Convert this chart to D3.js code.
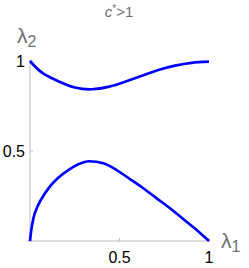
<!DOCTYPE html>
<html>
<head>
<meta charset="utf-8">
<script src="https://cdn.jsdelivr.net/npm/d3@7"></script>
<style>
  body { margin: 0; background: #fff; }
  svg { display: block; }
</style>
</head>
<body>
<div id="chart"></div>
<script>
// valeurs
const upperX = [0, 0.065, 0.158, 0.251, 0.345, 0.437, 0.531, 0.624, 0.717, 0.81, 0.903, 1.0];
const upperY = [1, 0.937, 0.888, 0.853, 0.843, 0.856, 0.885, 0.918, 0.95, 0.974, 0.99, 0.996];
const lowerX = [0, 0.006, 0.019, 0.046, 0.084, 0.121, 0.158, 0.214, 0.27, 0.33, 0.41, 0.484, 0.559, 0.633, 0.708, 0.782, 0.856, 0.931, 1.0];
const lowerY = [0, 0.052, 0.126, 0.2, 0.265, 0.315, 0.352, 0.394, 0.426, 0.443, 0.432, 0.394, 0.344, 0.293, 0.237, 0.182, 0.122, 0.061, 0];
const xTicks = [0.5, 1];
const yTicks = [0.5, 1];

const width = 249, height = 268;
const margin = { top: 61, right: 40, bottom: 27, left: 30 };

const svg = d3.select("#chart").append("svg")
    .attr("width", width)
    .attr("height", height);

const x = d3.scaleLinear().domain([0, 1]).range([margin.left, width - margin.right]);
const y = d3.scaleLinear().domain([0, 1]).range([height - margin.bottom, margin.top]);

// axes gris
const axisColor = "#bbbbbb";
svg.append("line")
    .attr("x1", x(0) - 3).attr("x2", x(1) + 1)
    .attr("y1", y(0)).attr("y2", y(0))
    .attr("stroke", axisColor).attr("stroke-width", 1);
svg.append("line")
    .attr("x1", x(0)).attr("x2", x(0))
    .attr("y1", y(0)).attr("y2", y(1) - 1)
    .attr("stroke", axisColor).attr("stroke-width", 1);

// graduations
svg.selectAll(".xt").data(xTicks).enter().append("line")
    .attr("x1", d => x(d)).attr("x2", d => x(d))
    .attr("y1", y(0)).attr("y2", y(0) - 3)
    .attr("stroke", axisColor);
svg.selectAll(".yt").data(yTicks).enter().append("line")
    .attr("x1", x(0)).attr("x2", x(0) + 3)
    .attr("y1", d => y(d)).attr("y2", d => y(d))
    .attr("stroke", axisColor);

svg.selectAll(".xl").data(xTicks).enter().append("text")
    .attr("x", d => x(d))
    .attr("y", y(0) + 22)
    .attr("text-anchor", "middle")
    .style("font-family", "Liberation Sans, Arial")
    .style("font-size", "16px")
    .text(d => d === 1 ? "1" : d);
svg.selectAll(".yl").data(yTicks).enter().append("text")
    .attr("x", x(0) - 5)
    .attr("y", d => y(d) + 6)
    .attr("text-anchor", "end")
    .style("font-family", "Liberation Sans, Arial")
    .style("font-size", "16px")
    .text(d => d === 1 ? "1" : d);

// courbes
const upperLine = d3.line()
    .x(d => x(d[0]))
    .y(d => y(d[1]))
    .curve(d3.curveNatural);

const lowerLine = d3.line()
    .x(d => x(d[0]))
    .y(d => y(d[1]))
    .curve(d3.curveMonotoneX);

svg.append("path")
    .datum(upperX.map((v, i) => [v, upperY[i]]))
    .attr("fill", "none")
    .attr("stroke", "#0000ff")
    .attr("stroke-width", 2.7)
    .attr("d", upperLine);

svg.append("path")
    .datum(lowerX.map((v, i) => [v, lowerY[i]]))
    .attr("fill", "none")
    .attr("stroke", "#0000ff")
    .attr("stroke-width", 2.7)
    .attr("d", lowerLine);

// titres des axes
const grey = "#707070";
const lab2 = svg.append("text")
    .attr("x", 17).attr("y", 43)
    .attr("fill", grey)
    .style("font-family", "Liberation Sans, Arial")
    .style("font-size", "21px");
lab2.append("tspan").text("λ");
lab2.append("tspan").attr("dy", 4).style("font-size", "16px").text("2");

const lab1 = svg.append("text")
    .attr("x", 221).attr("y", 248)
    .attr("fill", grey)
    .style("font-family", "Liberation Sans, Arial")
    .style("font-size", "21px");
lab1.append("tspan").text("λ");
lab1.append("tspan").attr("dy", 4).style("font-size", "16px").text("1");

// titre
const title = svg.append("text")
    .attr("x", 119).attr("y", 17)
    .attr("text-anchor", "middle")
    .attr("fill", grey)
    .style("font-family", "Liberation Sans, Arial")
    .style("font-size", "15px");
title.append("tspan").style("font-style", "italic").text("c");
title.append("tspan").attr("dy", -5).style("font-size", "10px").text("*");
title.append("tspan").attr("dy", 5).text(">1");
</script>
</body>
</html>
